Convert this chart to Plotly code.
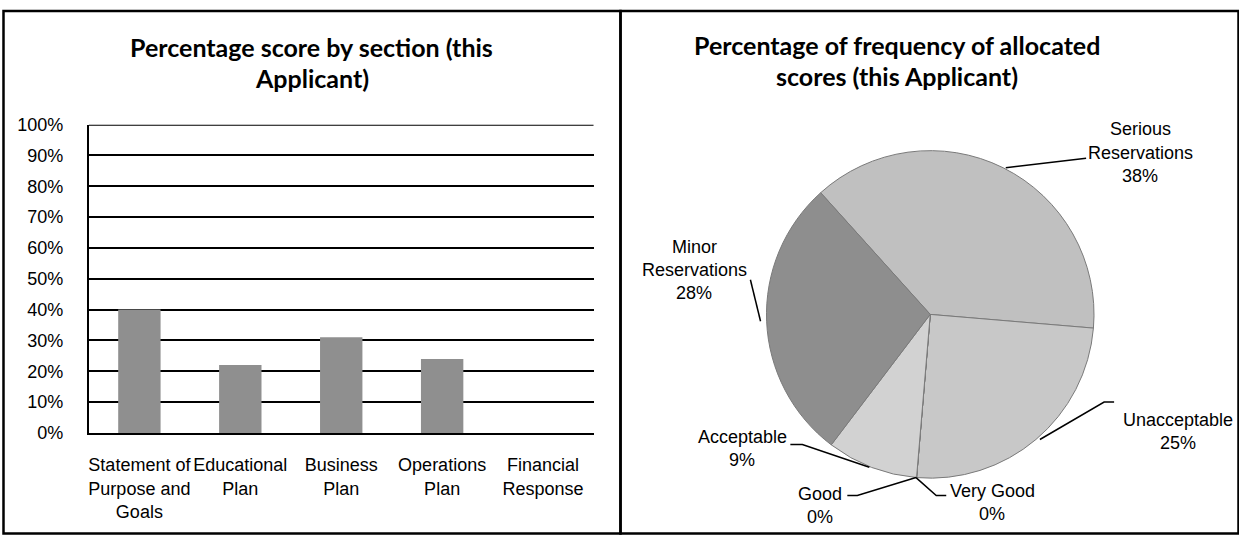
import math
import textwrap
import plotly.graph_objects as go

# ---- data -------------------------------------------------------------
sections = [
    "Statement of Purpose and Goals",
    "Educational Plan",
    "Business Plan",
    "Operations Plan",
    "Financial Response",
]
section_scores = [40, 22, 31, 24, 0]          # percent
y_ticks = [0, 10, 20, 30, 40, 50, 60, 70, 80, 90, 100]

score_levels = [
    "Serious Reservations",
    "Unacceptable",
    "Very Good",
    "Good",
    "Acceptable",
    "Minor Reservations",
]
score_share = [38, 25, 0, 0, 9, 28]           # percent

# ---- page geometry (pixels) -------------------------------------------
W, H = 1239, 545


def fx(px):
    return px / W


def fy(py):
    return 1 - py / H


BAR_BOX = dict(x0=88, x1=593, y0=119, y1=439)
PIE_C = (930, 316)
PIE_R = 170
PIE_START = 318                                 # degrees clockwise from 12 o'clock

TEXT_FONT = "Liberation Sans, Arial, sans-serif"
TITLE_FONT = "Lato, Calibri, sans-serif"
TEXT_SIZE = 18

slice_colors = ["#c0c0c0", "#c8c8c8", "#c8c8c8", "#cccccc", "#d2d2d2", "#8e8e8e"]

fig = go.Figure()

# ---- bar chart --------------------------------------------------------
fig.add_trace(go.Bar(
    x=list(range(len(sections))),
    y=section_scores,
    marker=dict(color="#8f8f8f", line=dict(color="#6c6c6c", width=0)),
    width=0.42,
    xaxis="x", yaxis="y",
    showlegend=False,
    hoverinfo="skip",
))

fig.update_layout(
    xaxis=dict(
        domain=[fx(BAR_BOX["x0"]), fx(BAR_BOX["x1"])],
        range=[-0.5, len(sections) - 0.5],
        tickmode="array",
        tickvals=list(range(len(sections))),
        ticktext=["<br>".join(textwrap.wrap(s, 12)) for s in sections],
        tickfont=dict(family=TEXT_FONT, size=TEXT_SIZE, color="#000"),
        showline=True, linecolor="#000", linewidth=2,
        showgrid=False, zeroline=False, ticks="",
        ticklabelstandoff=15,
        fixedrange=True,
    ),
    yaxis=dict(
        domain=[fy(BAR_BOX["y1"]), fy(BAR_BOX["y0"])],
        range=[0, 100],
        tickmode="array",
        tickvals=y_ticks,
        ticktext=[f"{v}%" for v in y_ticks],
        tickfont=dict(family=TEXT_FONT, size=TEXT_SIZE, color="#000"),
        showline=True, linecolor="#000", linewidth=2,
        showgrid=True, gridcolor="#000", gridwidth=2,
        zeroline=False, ticks="",
        ticklabelstandoff=20,
        fixedrange=True,
    ),
)

# top gridline sits on the range boundary, so draw it explicitly
fig.add_shape(type="line", xref="x domain", yref="y", x0=0, x1=1,
              y0=y_ticks[-1], y1=y_ticks[-1], line=dict(color="#000", width=2),
              layer="below")

# ---- pie chart --------------------------------------------------------
fig.add_trace(go.Pie(
    labels=score_levels,
    values=score_share,
    sort=False,
    direction="clockwise",
    rotation=PIE_START - 360,
    marker=dict(colors=slice_colors, line=dict(color="#7a7a7a", width=1)),
    textinfo="none",
    hoverinfo="label+percent",
    showlegend=False,
    domain=dict(
        x=[fx(PIE_C[0] - PIE_R), fx(PIE_C[0] + PIE_R)],
        y=[fy(PIE_C[1] + PIE_R), fy(PIE_C[1] - PIE_R)],
    ),
))


def add_lines(cx, cy_first, lines, size, bold=False, font=TEXT_FONT, step=24):
    for i, line in enumerate(lines):
        txt = f"<b>{line}</b>" if bold else line
        fig.add_annotation(
            x=fx(cx), y=fy(cy_first + i * step), xref="paper", yref="paper",
            text=txt, showarrow=False, xanchor="center", yanchor="middle",
            font=dict(family=font, size=size, color="#000"),
        )


# chart titles
add_lines(311, 38, ["Percentage score by section (this", "Applicant)"],
          25, bold=True, font=TITLE_FONT, step=33)
add_lines(897, 36, ["Percentage of frequency of allocated", "scores (this Applicant)"],
          25, bold=True, font=TITLE_FONT, step=33)

# pie labels with leader lines drawn from each slice's mid-angle on the rim
label_layout = {
    "Serious Reservations": dict(text=(1140, 124), path=[(1086, 154)]),
    "Unacceptable": dict(text=(1178, 426), path=[(1104, 407), (1114, 407)]),
    "Very Good": dict(text=(992, 499), path=[(936, 504), (946, 504)]),
    "Good": dict(text=(820, 502), path=[(857, 504), (847, 504)]),
    "Acceptable": dict(text=(742, 443), path=[(802, 451), (790, 451)]),
    "Minor Reservations": dict(text=(694, 246), path=[(750, 280)]),
}

total = sum(score_share)
acc = 0.0
for name, val in zip(score_levels, score_share):
    mid = PIE_START + 360 * (acc + val / 2) / total
    acc += val
    a = math.radians(mid)
    ex = PIE_C[0] + PIE_R * math.sin(a)
    ey = PIE_C[1] - PIE_R * math.cos(a)
    spec = label_layout[name]
    pts = [(ex, ey)] + spec["path"]
    d = "M " + " L ".join(f"{fx(px):.5f},{fy(py):.5f}" for px, py in pts)
    fig.add_shape(type="path", path=d, xref="paper", yref="paper",
                  line=dict(color="#000", width=1.5))
    tx, ty = spec["text"]
    add_lines(tx, ty, textwrap.wrap(name, 12) + [f"{val}%"], TEXT_SIZE)

# panel frames
frame = dict(type="rect", xref="paper", yref="paper",
             line=dict(color="#000", width=2.5), fillcolor="rgba(0,0,0,0)")
fig.add_shape(x0=fx(2.5), x1=fx(620), y0=fy(543.5), y1=fy(1), **frame)
fig.add_shape(x0=fx(620), x1=fx(1238.5), y0=fy(543.5), y1=fy(1), **frame)

fig.update_layout(
    width=W, height=H,
    margin=dict(l=0, r=0, t=0, b=0),
    paper_bgcolor="#fff",
    plot_bgcolor="rgba(0,0,0,0)",
    showlegend=False,
)

fig.write_html("out.html")
